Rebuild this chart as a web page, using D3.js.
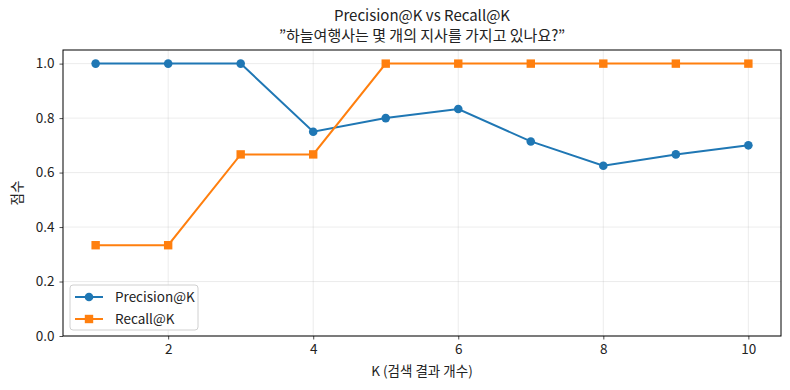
<!DOCTYPE html>
<html>
<head>
<meta charset="utf-8">
<script src="https://cdn.jsdelivr.net/npm/d3@7"></script>
<style>
  body { margin: 0; background: #fff; }
  text { font-family: "Noto Sans CJK KR", "Noto Sans", sans-serif; fill: #222; }
</style>
</head>
<body>
<div class="panel"></div>
<script>
const kValues = [1, 2, 3, 4, 5, 6, 7, 8, 9, 10];
const precision = [1.0, 1.0, 1.0, 0.75, 0.8, 0.8333, 0.7143, 0.625, 0.6667, 0.7];
const recall = [0.3333, 0.3333, 0.6667, 0.6667, 1.0, 1.0, 1.0, 1.0, 1.0, 1.0];
const xTicks = [2, 4, 6, 8, 10];
const yTicks = [0, 0.2, 0.4, 0.6, 0.8, 1.0];

const series = [
  { name: "Precision@K", values: precision, color: "#1f77b4", marker: "circle" },
  { name: "Recall@K", values: recall, color: "#ff7f0e", marker: "square" }
];

const width = 790, height = 390;
const m = { left: 63, right: 9, top: 50, bottom: 54 };

const svg = d3.select(".panel").append("svg")
  .attr("width", width).attr("height", height);

const x = d3.scaleLinear().domain([0.55, 10.45]).range([m.left, width - m.right]);
const y = d3.scaleLinear().domain([0, 1.05]).range([height - m.bottom, m.top]);

// grid
svg.append("g").selectAll("line").data(xTicks).join("line")
  .attr("x1", d => x(d)).attr("x2", d => x(d))
  .attr("y1", m.top).attr("y2", height - m.bottom)
  .attr("stroke", "#b0b0b0").attr("stroke-opacity", 0.3).attr("stroke-width", 0.8);
svg.append("g").selectAll("line").data(yTicks).join("line")
  .attr("x1", m.left).attr("x2", width - m.right)
  .attr("y1", d => y(d)).attr("y2", d => y(d))
  .attr("stroke", "#b0b0b0").attr("stroke-opacity", 0.3).attr("stroke-width", 0.8);

// axes
const xAxis = d3.axisBottom(x).tickValues(xTicks).tickFormat(d3.format("d")).tickSize(3.5).tickPadding(5);
const yAxis = d3.axisLeft(y).tickValues(yTicks).tickFormat(d3.format(".1f")).tickSize(3.5).tickPadding(5);

const gx = svg.append("g").attr("transform", `translate(0,${height - m.bottom})`).call(xAxis);
const gy = svg.append("g").attr("transform", `translate(${m.left},0)`).call(yAxis);
[gx, gy].forEach(g => {
  g.select(".domain").remove();
  g.selectAll("text").attr("font-size", 13.5).style("fill", "#222");
  g.selectAll("line").attr("stroke", "#222").attr("stroke-width", 0.8);
});

svg.append("rect")
  .attr("x", m.left).attr("y", m.top)
  .attr("width", width - m.left - m.right).attr("height", height - m.top - m.bottom)
  .attr("fill", "none").attr("stroke", "#000").attr("stroke-width", 1);

// lines and markers
const line = d3.line().x((d, i) => x(kValues[i])).y(d => y(d));

series.forEach(s => {
  svg.append("path").datum(s.values)
    .attr("d", line).attr("fill", "none")
    .attr("stroke", s.color).attr("stroke-width", 2);
  if (s.marker === "circle") {
    svg.append("g").selectAll("circle").data(s.values).join("circle")
      .attr("cx", (d, i) => x(kValues[i])).attr("cy", d => y(d))
      .attr("r", 4.3).attr("fill", s.color);
  } else {
    svg.append("g").selectAll("rect").data(s.values).join("rect")
      .attr("x", (d, i) => x(kValues[i]) - 4.2).attr("y", d => y(d) - 4.2)
      .attr("width", 8.4).attr("height", 8.4).attr("fill", s.color);
  }
});

// titles
svg.append("text").attr("x", (m.left + width - m.right) / 2).attr("y", 21)
  .attr("text-anchor", "middle").attr("font-size", 15).text("Precision@K vs Recall@K");
svg.append("text").attr("x", (m.left + width - m.right) / 2).attr("y", 41)
  .attr("text-anchor", "middle").attr("font-size", 15).text("\u201D하늘여행사는 몇 개의 지사를 가지고 있나요?\u201D");

svg.append("text").attr("x", (m.left + width - m.right) / 2).attr("y", 376)
  .attr("text-anchor", "middle").attr("font-size", 13.5).text("K (검색 결과 개수)");
svg.append("text").attr("transform", `translate(22,${(m.top + height - m.bottom) / 2}) rotate(-90)`)
  .attr("text-anchor", "middle").attr("font-size", 13.5).text("점수");

// legend
const lg = svg.append("g").attr("transform", "translate(70,285)");
lg.append("rect").attr("width", 128).attr("height", 45).attr("rx", 3)
  .attr("fill", "#fff").attr("fill-opacity", 0.8).attr("stroke", "#d0d0d0");
series.forEach((s, i) => {
  const cy = 12 + i * 22;
  lg.append("line").attr("x1", 5).attr("x2", 33).attr("y1", cy).attr("y2", cy)
    .attr("stroke", s.color).attr("stroke-width", 2);
  if (s.marker === "circle") {
    lg.append("circle").attr("cx", 19).attr("cy", cy).attr("r", 4.3).attr("fill", s.color);
  } else {
    lg.append("rect").attr("x", 14.8).attr("y", cy - 4.2).attr("width", 8.4).attr("height", 8.4).attr("fill", s.color);
  }
  lg.append("text").attr("x", 45).attr("y", cy).attr("dy", "0.35em")
    .attr("font-size", 13.5).text(s.name);
});
</script>
</body>
</html>
